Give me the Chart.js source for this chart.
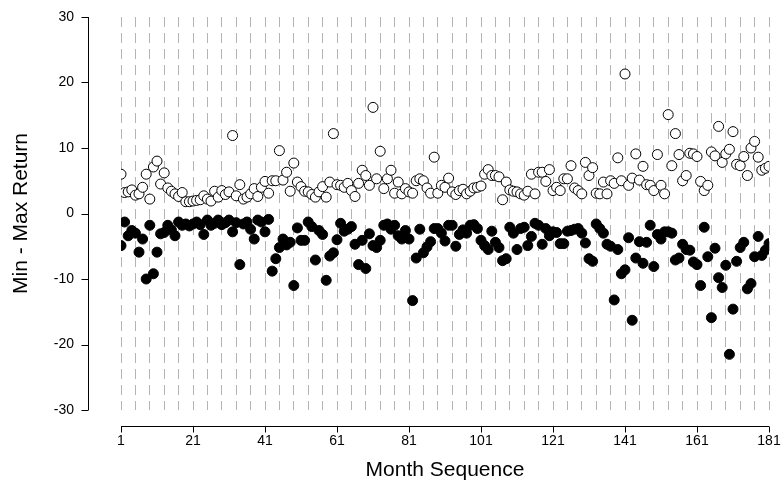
<!DOCTYPE html>
<html lang="en">
<head>
    <meta charset="UTF-8">
    <title>Min - Max Return</title>
    <script src="https://cdn.jsdelivr.net/npm/chart.js"></script>
    <style>
        body {
            margin: 0;
            background: #fff;
        }
        #wrap {
            width: 783px;
            height: 485px;
        }
    </style>
</head>
<body>
    <div id="wrap">
        <canvas id="retChart" width="783" height="485"></canvas>
    </div>

    <script>
        // monthly max return (open circles), months 1..181
        const maxReturn = [
            6.0, 3.2, 3.3, 3.6, 2.8, 3.0, 4.0, 6.0, 2.2, 7.1,
            8.0, 4.5, 6.2, 3.9, 3.4, 3.0, 2.6, 3.2, 1.8, 1.8,
            1.9, 2.0, 2.1, 2.7, 2.2, 1.9, 3.4, 2.5, 3.5, 2.9,
            3.3, 11.9, 2.7, 4.4, 2.2, 2.5, 3.0, 3.8, 2.6, 4.0,
            4.9, 3.1, 5.0, 5.0, 9.6, 5.1, 6.3, 3.4, 7.7, 4.8,
            4.1, 3.4, 3.3, 2.9, 2.5, 3.3, 4.1, 2.5, 4.8, 12.2,
            4.4, 4.3, 4.0, 4.6, 3.5, 2.6, 4.6, 6.6, 5.8, 4.3,
            16.2, 5.3, 9.5, 3.8, 5.3, 6.6, 3.1, 4.8, 3.0, 3.8,
            3.3, 3.1, 5.0, 5.3, 5.0, 3.9, 3.1, 8.6, 3.1, 4.3,
            4.0, 5.4, 3.3, 2.9, 3.5, 3.7, 3.0, 3.4, 3.9, 4.0,
            4.2, 6.0, 6.7, 5.8, 5.8, 5.6, 2.1, 4.8, 3.6, 3.4,
            3.3, 3.0, 2.8, 3.4, 6.0, 3.0, 6.3, 6.3, 4.9, 6.7,
            3.5, 4.0, 3.5, 5.3, 5.3, 7.3, 3.9, 3.5, 3.0, 7.8,
            5.8, 7.0, 3.1, 3.0, 4.8, 3.0, 5.0, 4.6, 8.5, 5.0,
            21.3, 4.3, 5.4, 9.1, 5.1, 7.2, 4.4, 4.3, 3.5, 9.0,
            4.3, 3.0, 15.1, 7.3, 12.2, 9.0, 5.0, 5.8, 9.2, 9.1,
            8.7, 4.9, 3.5, 4.3, 9.4, 8.8, 13.3, 7.8, 9.1, 9.8,
            12.5, 7.5, 7.3, 8.7, 5.8, 10.0, 11.0, 8.6, 6.6, 6.9,
            7.2
        ];

        // monthly min return (filled circles), months 1..181
        const minReturn = [
            -4.9, -1.3, -3.4, -2.6, -3.0, -5.9, -3.9, -10.0, -1.8, -9.2,
            -5.9, -3.1, -2.9, -1.8, -2.5, -3.4, -1.3, -1.8, -1.6, -1.9,
            -1.6, -1.3, -1.7, -3.2, -1.0, -1.8, -1.5, -1.0, -1.7, -1.4,
            -1.0, -2.8, -1.4, -7.8, -1.6, -1.3, -2.4, -3.9, -1.0, -1.3,
            -2.8, -0.9, -8.8, -6.9, -5.2, -3.9, -4.8, -4.4, -11.0, -2.2,
            -4.1, -4.1, -1.3, -2.0, -7.1, -2.6, -3.2, -10.2, -6.5, -6.0,
            -4.0, -1.5, -2.7, -2.4, -2.0, -4.7, -7.8, -4.1, -8.4, -3.1,
            -4.9, -5.2, -4.1, -1.8, -1.6, -2.4, -1.8, -3.4, -3.9, -2.6,
            -3.9, -13.3, -6.8, -2.4, -6.0, -5.1, -4.3, -2.3, -2.3, -3.0,
            -4.2, -1.8, -1.8, -5.0, -3.2, -2.5, -3.0, -1.8, -1.7, -2.3,
            -4.1, -4.9, -5.5, -2.7, -4.4, -5.2, -7.2, -6.9, -2.1, -3.0,
            -5.5, -2.3, -2.1, -4.9, -3.5, -1.5, -1.8, -4.7, -2.3, -3.4,
            -2.8, -2.9, -4.6, -4.6, -2.7, -2.6, -2.4, -2.3, -3.0, -4.5,
            -6.9, -7.3, -1.6, -2.3, -3.0, -4.7, -5.0, -13.2, -5.5, -9.2,
            -8.6, -3.7, -16.3, -6.8, -4.3, -7.6, -4.4, -1.8, -8.1, -3.2,
            -3.9, -2.8, -2.8, -3.0, -7.1, -6.8, -4.7, -5.5, -5.6, -7.4,
            -7.8, -11.0, -2.1, -6.6, -15.9, -5.3, -9.8, -11.3, -7.9, -21.5,
            -14.6, -7.3, -5.2, -4.4, -11.5, -10.7, -6.6, -3.5, -6.4, -5.6,
            -4.6
        ];

        const xLabels = [1, 21, 41, 61, 81, 101, 121, 141, 161, 181];
        const yTicks = [-30, -20, -10, 0, 10, 20, 30];

        const toPoints = arr => arr.map((v, i) => ({ x: i + 1, y: v }));
        const axisFont = 'Arial, "Liberation Sans", sans-serif';

        // detached axes drawn a little away from the plot, SigmaPlot style
        const offsetAxes = {
            id: 'offsetAxes',
            afterDraw(chart) {
                const { ctx, chartArea, scales } = chart;
                const ax = chartArea.left - 32.5;
                const ay = chartArea.bottom + 16.5;
                ctx.save();
                ctx.strokeStyle = '#000';
                ctx.lineWidth = 1;
                ctx.beginPath();
                ctx.moveTo(ax, scales.y.getPixelForValue(30));
                ctx.lineTo(ax, scales.y.getPixelForValue(-30));
                yTicks.forEach(v => {
                    const py = Math.round(scales.y.getPixelForValue(v)) + 0.5;
                    ctx.moveTo(ax - 7, py);
                    ctx.lineTo(ax, py);
                });
                ctx.moveTo(scales.x.getPixelForValue(1), ay);
                ctx.lineTo(scales.x.getPixelForValue(181), ay);
                xLabels.forEach(m => {
                    const px = Math.round(scales.x.getPixelForValue(m)) + 0.5;
                    ctx.moveTo(px, ay);
                    ctx.lineTo(px, ay + 6);
                });
                ctx.stroke();
                ctx.restore();
            }
        };

        new Chart(document.getElementById('retChart'), {
            type: 'scatter',
            data: {
                datasets: [
                    {
                        label: 'Max',
                        data: toPoints(maxReturn),
                        backgroundColor: '#ffffff',
                        borderColor: '#000000',
                        borderWidth: 1,
                        pointRadius: 5,
                    },
                    {
                        label: 'Min',
                        data: toPoints(minReturn),
                        backgroundColor: '#000000',
                        borderColor: '#000000',
                        borderWidth: 1,
                        pointRadius: 5,
                    }
                ]
            },
            options: {
                responsive: false,
                animation: false,
                devicePixelRatio: 1,
                layout: {
                    padding: { top: 17, right: 14, left: 0, bottom: 0 }
                },
                plugins: {
                    legend: { display: false },
                    tooltip: { enabled: false }
                },
                scales: {
                    x: {
                        type: 'linear',
                        min: 1,
                        max: 181,
                        afterFit: scale => {
                            scale.height = 75;
                            scale.paddingLeft = 0;
                            scale.paddingRight = 0;
                        },
                        border: { display: false, dash: [10, 6] },
                        grid: {
                            color: '#b4b4b4',
                            lineWidth: 1,
                            drawTicks: false
                        },
                        ticks: {
                            stepSize: 4,
                            maxTicksLimit: 200,
                            autoSkip: false,
                            maxRotation: 0,
                            padding: 23,
                            color: '#000',
                            font: { family: axisFont, size: 14 },
                            callback: v => (xLabels.includes(v) ? String(v) : '')
                        },
                        title: {
                            display: true,
                            text: 'Month Sequence',
                            color: '#000',
                            padding: { top: 0, bottom: 2 },
                            font: { family: axisFont, size: 21 }
                        }
                    },
                    y: {
                        min: -30,
                        max: 30,
                        afterFit: scale => {
                            scale.width = 121;
                            scale.paddingTop = 0;
                            scale.paddingBottom = 0;
                        },
                        border: { display: false },
                        grid: { display: false, drawTicks: false },
                        ticks: {
                            stepSize: 10,
                            padding: 47,
                            color: '#000',
                            font: { family: axisFont, size: 14 }
                        },
                        title: {
                            display: true,
                            text: 'Min - Max Return',
                            color: '#000',
                            padding: { top: 9, bottom: 0 },
                            font: { family: axisFont, size: 21 }
                        }
                    }
                }
            },
            plugins: [offsetAxes]
        });
    </script>
</body>
</html>
